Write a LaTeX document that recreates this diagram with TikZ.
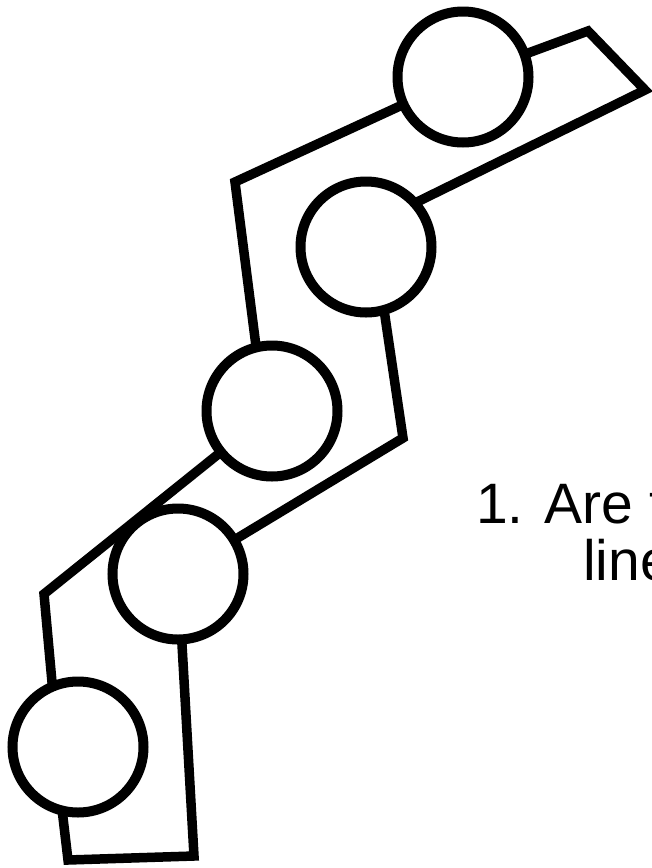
\documentclass[tikz,border=0pt]{standalone}
\usepackage{fontspec}
\setmainfont{Liberation Sans}

\tikzset{
  ring/.style={draw, circle, line width=10pt, minimum size=131pt, inner sep=0pt, outer sep=0pt},
  bar/.style={line width=9.5pt},
  qtext/.style={anchor=base west, inner sep=0pt, font=\fontsize{57}{57}\selectfont}
}

\begin{document}
\begin{tikzpicture}[x=1pt, y=-1pt]
	%%%%% START %%%%%
	\useasboundingbox (0, 0) rectangle (652, 868);
	
	\node[ring] (c1) at (463, 77) {};
	\node[ring] (c2) at (366, 247) {};
	\node[ring] (c3) at (272, 411) {};
	\node[ring] (c4) at (178, 574) {};
	\node[ring] (c5) at (78, 747) {};
	
	\coordinate (p1) at (588, 31);
	\coordinate (p2) at (645, 90);
	\coordinate (p3) at (403, 438);
	\coordinate (p4) at (44, 594);
	\coordinate (p5) at (68, 860);
	\coordinate (p6) at (194, 856);
	\coordinate (p7) at (235, 182);
	
	\draw[bar] (c1) -- (p1) -- (p2) -- (c2.42);
	\draw[bar] (c2.-74) -- (p3) -- (c4);
	\draw[bar] (c4) -- (p6) -- (p5) -- (c5.-104);
	\draw[bar] (c5.113) -- (p4) -- (c3);
	\draw[bar] (c3.104) -- (p7) -- (c1);
	
	\node[qtext] (q1) at (476, 523) {1. Are t};
	\node[qtext] (q2) at (583, 580) {line};
	
	%%%%% END %%%%%
\end{tikzpicture}
\end{document}
